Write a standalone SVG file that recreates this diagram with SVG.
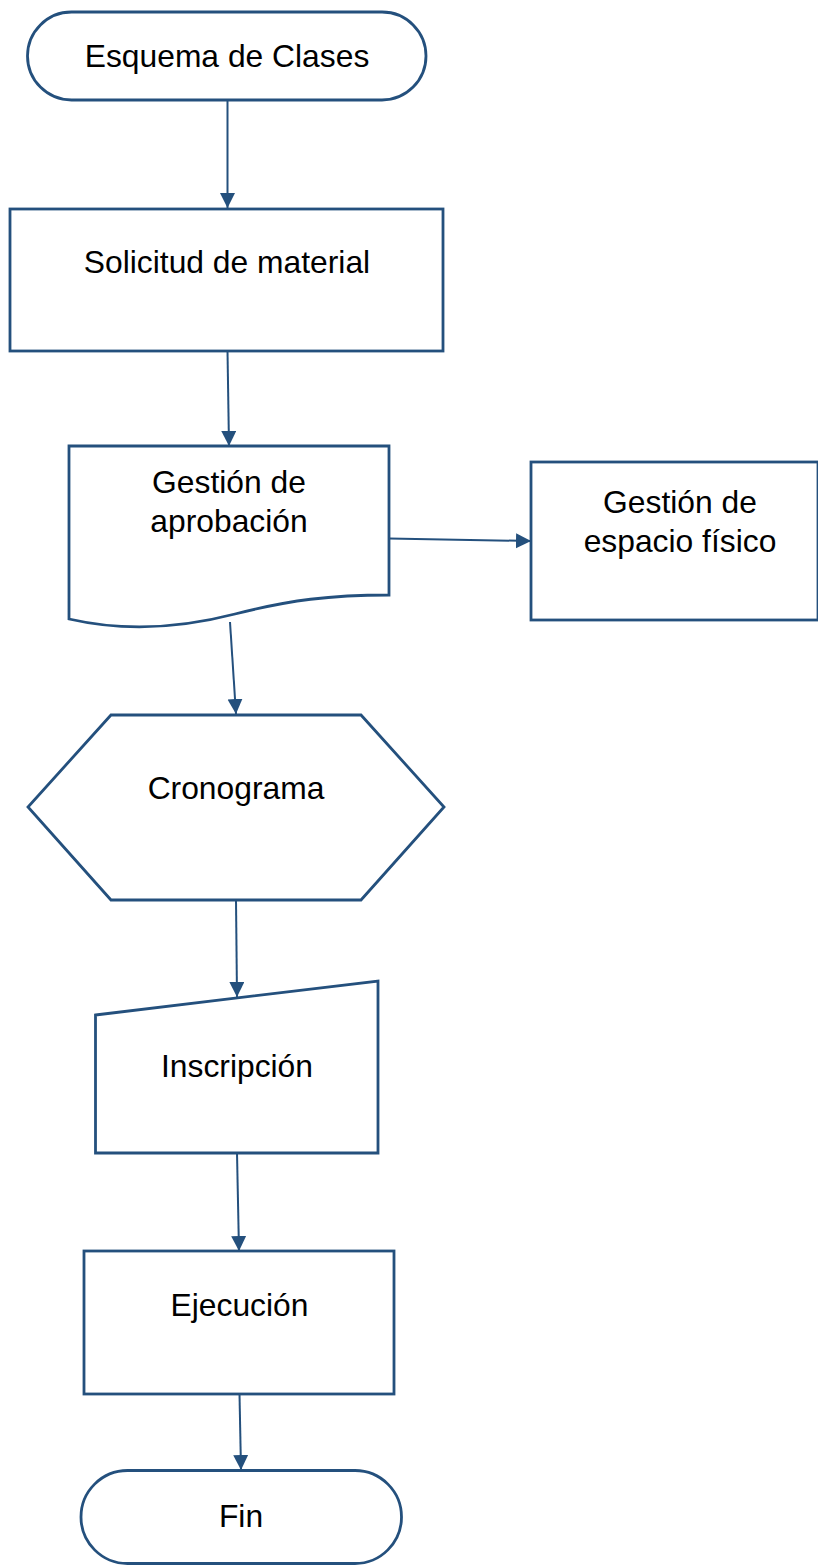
<svg xmlns="http://www.w3.org/2000/svg" width="818" height="1568" viewBox="0 0 818 1568">
<style>
.s{fill:#fff;stroke:#24507d;stroke-width:2.8}
.c{fill:none;stroke:#24507d;stroke-width:2}
.t{font-family:"Liberation Sans",Arial,sans-serif;font-size:31.8px;fill:#000;text-anchor:middle}
</style>
<defs>
<marker id="ah" markerUnits="userSpaceOnUse" markerWidth="16" markerHeight="16" refX="15" refY="7.5" orient="auto">
<path d="M0,0 L15,7.5 L0,15 z" fill="#24507d"/>
</marker>
</defs>
<rect width="818" height="1568" fill="#fff"/>
<g id="connectors">
<line class="c" x1="227.5" y1="100" x2="227.5" y2="208" marker-end="url(#ah)"/>
<line class="c" x1="227.5" y1="351" x2="229" y2="446" marker-end="url(#ah)"/>
<line class="c" x1="389" y1="538.5" x2="531" y2="541" marker-end="url(#ah)"/>
<line class="c" x1="230" y1="622" x2="236" y2="714" marker-end="url(#ah)"/>
<line class="c" x1="236" y1="900" x2="237" y2="997" marker-end="url(#ah)"/>
<line class="c" x1="237" y1="1153" x2="239" y2="1251" marker-end="url(#ah)"/>
<line class="c" x1="239.5" y1="1394" x2="241" y2="1470" marker-end="url(#ah)"/>
</g>
<g id="n1">
<rect class="s" x="27.5" y="12" width="398.5" height="88" rx="44" ry="44"/>
<text class="t" x="227" y="67">Esquema de Clases</text>
</g>
<g id="n2">
<rect class="s" x="10" y="209" width="433" height="142"/>
<text class="t" x="227" y="273">Solicitud de material</text>
</g>
<g id="n3">
<path class="s" d="M69,446 H389 V595 C330,595 290,600 235,614 C185,627 130,633 69,619 Z"/>
<text class="t" x="229" y="493">Gestión de</text>
<text class="t" x="229" y="532">aprobación</text>
</g>
<g id="n4">
<rect class="s" x="531" y="462" width="287" height="158"/>
<text class="t" x="680" y="513">Gestión de</text>
<text class="t" x="680" y="552">espacio físico</text>
</g>
<g id="n5">
<polygon class="s" points="111,715 361,715 444,807 361,900 111,900 28,807"/>
<text class="t" x="236" y="799">Cronograma</text>
</g>
<g id="n6">
<polygon class="s" points="95.5,1015 378,981 378,1153 95.5,1153"/>
<text class="t" x="237" y="1077">Inscripción</text>
</g>
<g id="n7">
<rect class="s" x="84" y="1251" width="310" height="143"/>
<text class="t" x="239.5" y="1316">Ejecución</text>
</g>
<g id="n8">
<rect class="s" x="81" y="1470.5" width="320.5" height="93" rx="46.5" ry="46.5"/>
<text class="t" x="241" y="1527">Fin</text>
</g>
</svg>
